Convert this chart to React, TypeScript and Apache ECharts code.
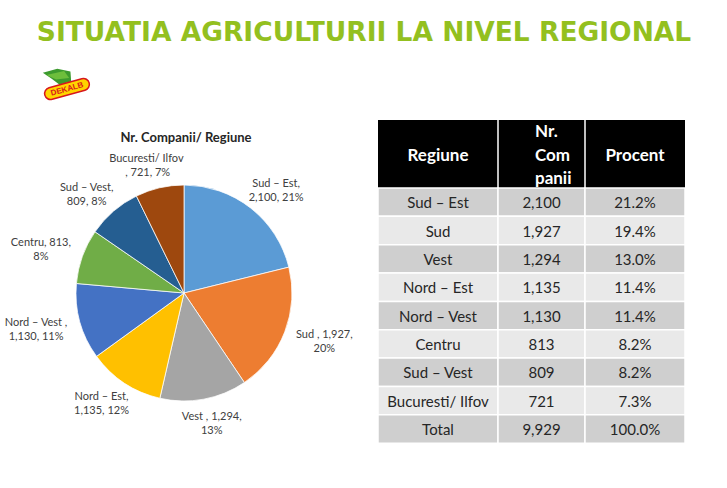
import React, { useEffect, useRef } from "react";
import * as echarts from "echarts";

// ---- Data ----
const regions = ["Sud – Est", "Sud", "Vest", "Nord – Est", "Nord – Vest", "Centru", "Sud – Vest", "Bucuresti/ Ilfov"];
const companies = [2100, 1927, 1294, 1135, 1130, 813, 809, 721];
const tablePercents = [21.2, 19.4, 13.0, 11.4, 11.4, 8.2, 8.2, 7.3];
const totalCompanies = 9929;
const totalPercent = 100.0;
const piePercents = [21, 20, 13, 12, 11, 8, 8, 7];
const pieLabelNames = ["Sud – Est", "Sud ", "Vest ", "Nord – Est", "Nord – Vest ", "Centru", "Sud – Vest", "Bucuresti/ Ilfov "];
const pieLabelBreak = ["name", "value", "value", "name", "name", "value", "name", "nameOnly"];
const sliceColors = ["#5B9BD5", "#ED7D31", "#A5A5A5", "#FFC000", "#4472C4", "#70AD47", "#255E91", "#9E480E"];
const tableHeaders = ["Regiune", "Nr.\nCom\npanii", "Procent"];
const titleText = "SITUATIA AGRICULTURII LA NIVEL REGIONAL";
const pieTitle = "Nr. Companii/ Regiune";

const fmt = (v: number) => v.toLocaleString("en-US");

export default function App() {
  const ref = useRef<HTMLDivElement>(null);
  useEffect(() => {
    document.body.style.margin = "0";
    const chart = echarts.init(ref.current!, undefined, { renderer: "svg" });

    const colX = [378, 498, 585, 685];
    const headTop = 120;
    const headBottom = 188;
    const rowH = 28.35;
    const graphics: any[] = [];

    // Title
    graphics.push({
      type: "text",
      x: 364,
      y: 31,
      style: {
        text: titleText,
        fill: "#93C01F",
        font: "bold 26.5px 'DejaVu Sans'",
        align: "center",
        verticalAlign: "middle",
      },
    });

    // Logo
    graphics.push({
      type: "group",
      x: 67,
      y: 89,
      rotation: 0.27,
      children: [
        {
          type: "polygon",
          shape: { points: [[-19, -22], [-4, -22], [8, -16], [6, -6], [-6, -6], [-12, -14]] },
          style: { fill: "#3C9A2E" },
        },
        {
          type: "polygon",
          shape: { points: [[-16, -19], [2, -18], [5, -10], [-8, -12]] },
          style: { fill: "#6DBE3C" },
        },
        {
          type: "rect",
          shape: { x: -23, y: -6, width: 46, height: 12, r: 6 },
          style: { fill: "#FFD400", stroke: "#D7161C", lineWidth: 1.5 },
        },
        {
          type: "text",
          x: 0,
          y: 0,
          style: {
            text: "DEKALB",
            fill: "#D7161C",
            font: "bold 8px 'Liberation Sans'",
            align: "center",
            verticalAlign: "middle",
          },
        },
      ],
    });

    // Pie title
    graphics.push({
      type: "text",
      x: 186,
      y: 137,
      style: {
        text: pieTitle,
        fill: "#262626",
        font: "bold 13px Lato",
        align: "center",
        verticalAlign: "middle",
      },
    });

    // Table header
    graphics.push({
      type: "rect",
      shape: { x: colX[0], y: headTop, width: colX[3] - colX[0], height: headBottom - headTop },
      style: { fill: "#000000" },
    });
    tableHeaders.forEach((h, i) => {
      const isMulti = h.includes("\n");
      graphics.push({
        type: "text",
        x: isMulti ? 535 : (colX[i] + colX[i + 1]) / 2,
        y: (headTop + headBottom) / 2,
        style: {
          text: h,
          fill: "#FFFFFF",
          font: "bold 17px Lato",
          lineHeight: 23.5,
          align: isMulti ? "left" : "center",
          verticalAlign: "middle",
        },
      });
    });

    // Table rows
    const rows: string[][] = regions.map((r, i) => [r, fmt(companies[i]), tablePercents[i].toFixed(1) + "%"]);
    rows.push(["Total", fmt(totalCompanies), totalPercent.toFixed(1) + "%"]);
    rows.forEach((row, ri) => {
      const y0 = headBottom + ri * rowH;
      const fill = ri % 2 === 0 ? "#CFCFCF" : "#E9E9E9";
      for (let c = 0; c < 3; c++) {
        graphics.push({
          type: "rect",
          shape: { x: colX[c], y: y0, width: colX[c + 1] - colX[c], height: rowH },
          style: { fill, stroke: "#FFFFFF", lineWidth: 1.5 },
        });
        graphics.push({
          type: "text",
          x: (colX[c] + colX[c + 1]) / 2,
          y: y0 + rowH / 2,
          style: {
            text: row[c],
            fill: "#262626",
            font: "15px Lato",
            align: "center",
            verticalAlign: "middle",
          },
        });
      }
    });
    [colX[1], colX[2]].forEach((x) => {
      graphics.push({
        type: "line",
        shape: { x1: x, y1: headTop, x2: x, y2: headBottom },
        style: { stroke: "#FFFFFF", lineWidth: 1.5 },
      });
    });

    const pieData = regions.map((r, i) => ({
      name: r,
      value: companies[i],
      itemStyle: { color: sliceColors[i] },
    }));

    chart.setOption({
      animation: false,
      graphic: graphics,
      series: [
        {
          type: "pie",
          center: [184, 293],
          radius: [0, 108],
          startAngle: 90,
          clockwise: true,
          avoidLabelOverlap: false,
          itemStyle: { borderColor: "#FFFFFF", borderWidth: 0.75 },
          emphasis: { disabled: true },
          label: {
            show: true,
            position: "outside",
            color: "#404040",
            fontFamily: "Lato",
            fontSize: 11,
            lineHeight: 14,
            formatter: (p: any) => {
              const i = p.dataIndex;
              const n = pieLabelNames[i];
              const v = fmt(companies[i]);
              const pc = piePercents[i] + "%";
              const b = pieLabelBreak[i];
              if (b === "name") return `${n},\n${v}, ${pc}`;
              if (b === "value") return `${n}, ${v},\n${pc}`;
              return `${n}\n, ${v}, ${pc}`;
            },
          },
          labelLine: { show: false, length: 14, length2: 0 },
          labelLayout: (params: any) => {
            const r = params.labelRect;
            const pts = params.labelLinePoints;
            if (!pts || pts.length < 2) {
              return { x: r.x + r.width / 2, y: r.y + r.height / 2, align: "center", verticalAlign: "middle" };
            }
            const p0 = pts[0];
            const p1 = pts[1];
            let dx = p1[0] - p0[0];
            let dy = p1[1] - p0[1];
            const L = Math.hypot(dx, dy) || 1;
            dx /= L;
            dy /= L;
            return {
              x: p1[0] + (dx * r.width) / 2,
              y: p1[1] + (dy * r.height * 0.7) / 2,
              align: "center",
              verticalAlign: "middle",
            };
          },
          data: pieData,
        },
      ],
    });
    return () => chart.dispose();
  }, []);
  return <div ref={ref} style={{ width: 727, height: 488 }} />;
}
